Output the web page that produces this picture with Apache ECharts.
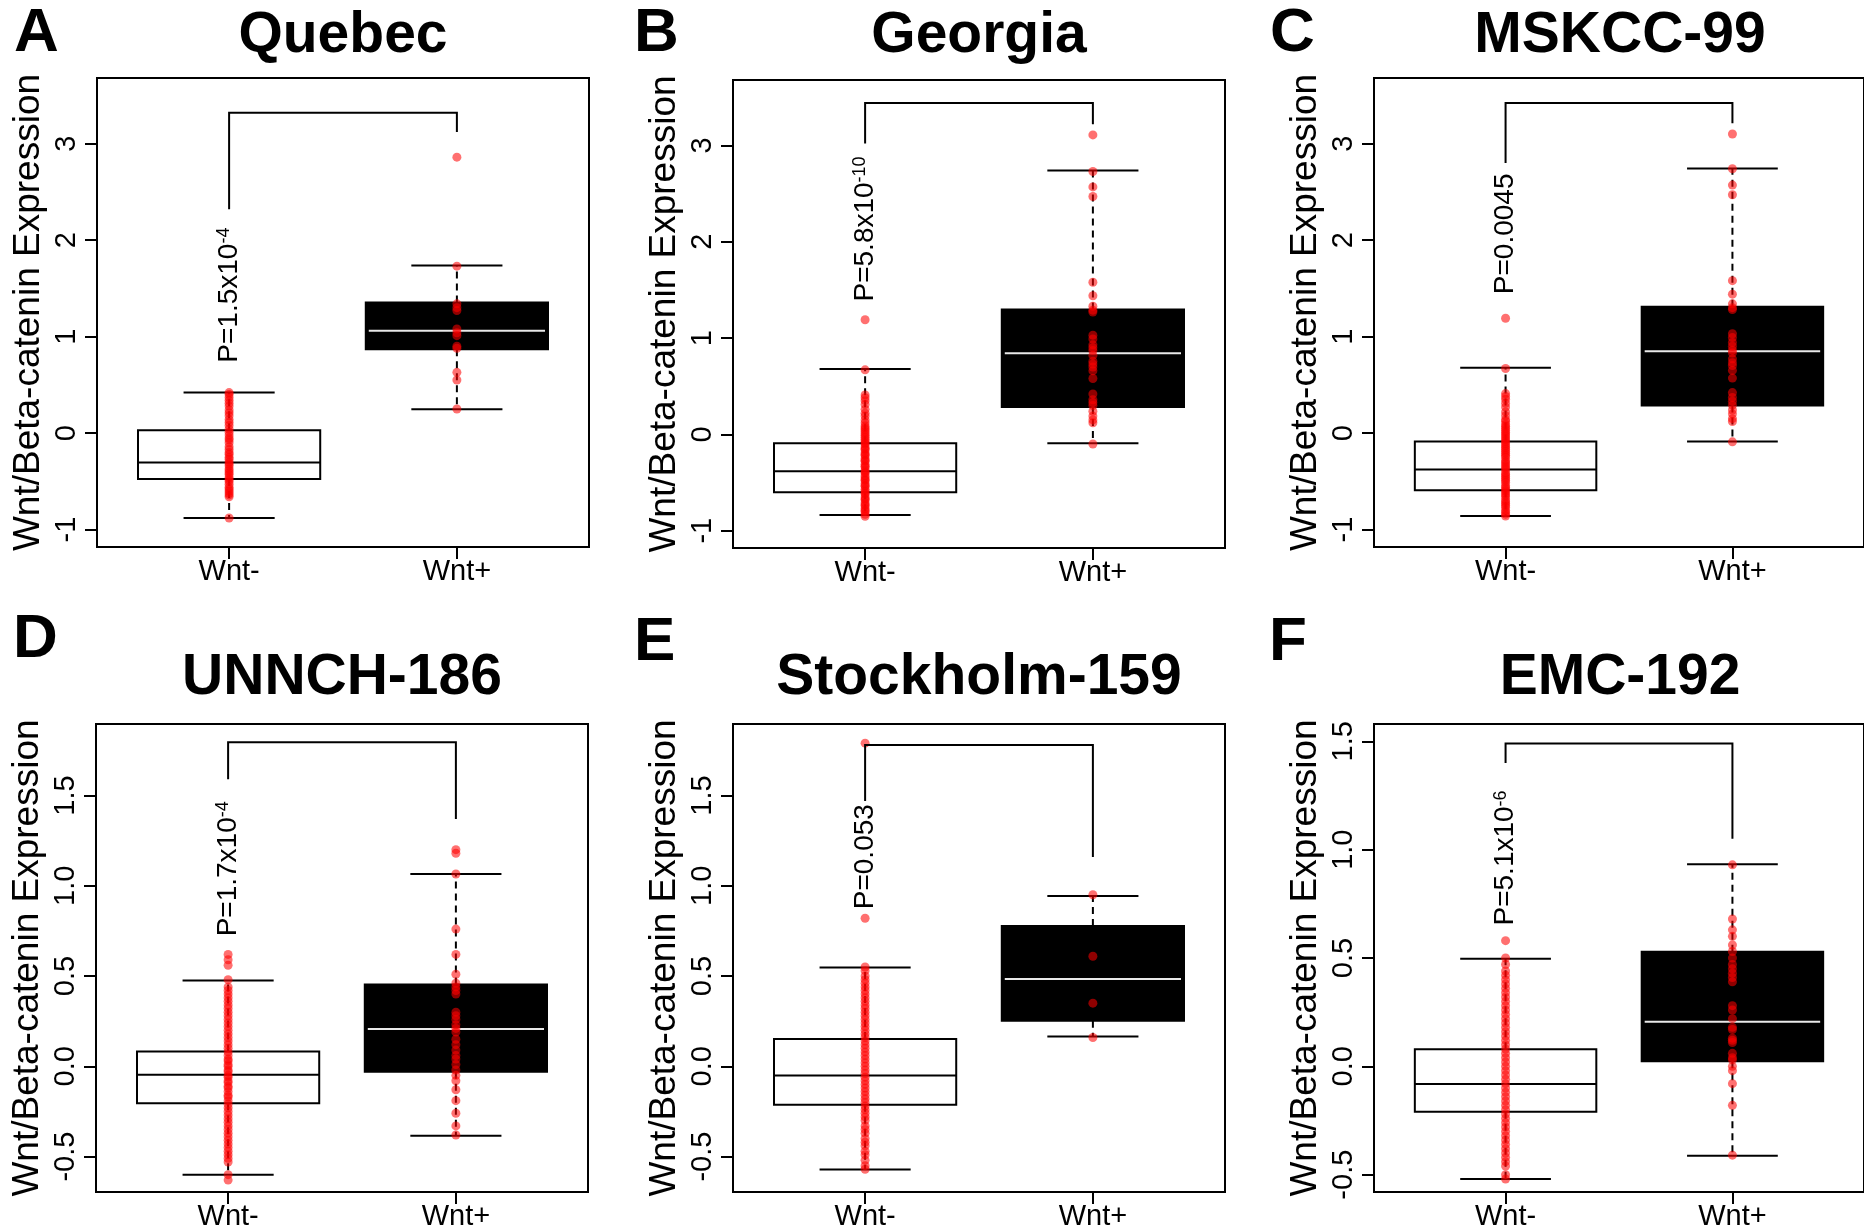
<!DOCTYPE html>
<html><head><meta charset="utf-8">
<script src="https://cdn.jsdelivr.net/npm/echarts@6/dist/echarts.min.js"></script>
<style>html,body{margin:0;padding:0;background:#fff;overflow:hidden}#c{width:1864px;height:1232px}</style>
</head><body><div id="c"></div>
<script>
// ---------------- DATA ----------------
const categories = ['Wnt-', 'Wnt+'];
const panelLetters = ['A', 'B', 'C', 'D', 'E', 'F'];
const panelTitles = ['Quebec', 'Georgia', 'MSKCC-99', 'UNNCH-186', 'Stockholm-159', 'EMC-192'];
const pMain = ['P=1.5x10', 'P=5.8x10', 'P=0.0045', 'P=1.7x10', 'P=0.053', 'P=5.1x10'];
const pExp = ['-4', '-10', '', '-4', '', '-6'];
const pTextStart = [0.73, 1.38, 1.44, 0.72, 0.87, 0.65];
// bracket: [left end, top, right end]
const brackets = [[2.32, 3.32, 3.12], [3.02, 3.44, 3.22], [2.80, 3.42, 3.21], [1.59, 1.795, 1.37], [1.47, 1.78, 1.16], [1.40, 1.49, 1.05]];
const yLimits = [[-1.18, 3.68], [-1.18, 3.68], [-1.18, 3.68], [-0.696, 1.896], [-0.696, 1.896], [-0.58, 1.58]];
const yTicksTop = [-1, 0, 1, 2, 3];
const yTickLabelsTop = ['-1', '0', '1', '2', '3'];
const yTicksBottom = [-0.5, 0, 0.5, 1, 1.5];
const yTickLabelsBottom = ['-0.5', '0.0', '0.5', '1.0', '1.5'];

// box stats: [low whisker, Q1, median, Q3, high whisker]
const quebecBoxNeg = [-0.88, -0.475, -0.305, 0.03, 0.42];
const quebecBoxPos = [0.247, 0.868, 1.061, 1.353, 1.736];
const georgiaBoxNeg = [-0.838, -0.60, -0.383, -0.091, 0.68];
const georgiaBoxPos = [-0.091, 0.285, 0.842, 1.296, 2.739];
const mskccBoxNeg = [-0.859, -0.593, -0.376, -0.088, 0.678];
const mskccBoxPos = [-0.088, 0.287, 0.848, 1.31, 2.743];
const unnchBoxNeg = [-0.601, -0.205, -0.047, 0.082, 0.476];
const unnchBoxPos = [-0.384, -0.030, 0.207, 0.453, 1.065];
const stockholmBoxNeg = [-0.571, -0.213, -0.051, 0.152, 0.548];
const stockholmBoxPos = [0.165, 0.253, 0.484, 0.777, 0.944];
const emcBoxNeg = [-0.52, -0.21, -0.081, 0.079, 0.497];
const emcBoxPos = [-0.413, 0.023, 0.206, 0.529, 0.933];

// sample points
const quebecNeg = [-0.88, -0.66, -0.64, -0.62, -0.6, -0.58, -0.56, -0.53, -0.5, -0.48, -0.46, -0.43, -0.41, -0.39, -0.37, -0.34, -0.32, -0.3, -0.27, -0.25, -0.22, -0.2, -0.17, -0.14, -0.1, -0.07, -0.05, -0.02, 0.01, 0.04, 0.08, 0.11, 0.14, 0.18, 0.21, 0.24, 0.28, 0.31, 0.34, 0.37, 0.4, 0.42];
const quebecPos = [0.25, 0.55, 0.63, 0.88, 0.9, 1.01, 1.04, 1.08, 1.27, 1.3, 1.34, 1.73, 2.86];
const georgiaNeg = [-0.85, -0.83, -0.8, -0.79, -0.77, -0.74, -0.73, -0.71, -0.68, -0.67, -0.65, -0.62, -0.61, -0.59, -0.57, -0.54, -0.53, -0.51, -0.48, -0.47, -0.45, -0.43, -0.4, -0.39, -0.37, -0.34, -0.33, -0.31, -0.28, -0.27, -0.25, -0.22, -0.21, -0.19, -0.16, -0.15, -0.13, -0.1, -0.09, -0.07, -0.05, -0.03, -0.01, 0.01, 0.03, 0.05, 0.07, 0.09, 0.12, 0.15, 0.19, 0.22, 0.26, 0.31, 0.35, 0.38, 0.41, 0.67, 1.19];
const georgiaPos = [-0.10, 0.12, 0.15, 0.19, 0.24, 0.3, 0.33, 0.36, 0.42, 0.58, 0.66, 0.7, 0.73, 0.76, 0.82, 0.87, 0.9, 0.93, 0.99, 1.03, 1.27, 1.29, 1.33, 1.44, 1.58, 2.47, 2.57, 2.73, 3.11];
const mskccNeg = [-0.86, -0.84, -0.82, -0.8, -0.77, -0.75, -0.73, -0.71, -0.69, -0.66, -0.64, -0.62, -0.6, -0.58, -0.56, -0.54, -0.51, -0.49, -0.47, -0.45, -0.43, -0.41, -0.38, -0.36, -0.34, -0.32, -0.3, -0.28, -0.25, -0.23, -0.21, -0.19, -0.17, -0.15, -0.13, -0.11, -0.09, -0.07, -0.05, -0.03, -0.01, 0.01, 0.03, 0.05, 0.07, 0.09, 0.12, 0.14, 0.18, 0.22, 0.27, 0.31, 0.35, 0.38, 0.41, 0.67, 1.19];
const mskccPos = [-0.09, 0.12, 0.15, 0.2, 0.24, 0.29, 0.33, 0.37, 0.42, 0.57, 0.65, 0.7, 0.73, 0.77, 0.83, 0.86, 0.9, 0.94, 0.99, 1.03, 1.28, 1.3, 1.34, 1.44, 1.58, 2.47, 2.57, 2.74, 3.1];
const unnchNeg = [-0.63, -0.60, -0.53, -0.51, -0.49, -0.47, -0.45, -0.43, -0.41, -0.39, -0.37, -0.35, -0.33, -0.31, -0.29, -0.27, -0.25, -0.23, -0.21, -0.19, -0.17, -0.16, -0.14, -0.12, -0.11, -0.09, -0.08, -0.06, -0.05, -0.03, -0.02, 0.0, 0.01, 0.03, 0.04, 0.06, 0.08, 0.1, 0.12, 0.14, 0.16, 0.18, 0.2, 0.22, 0.24, 0.26, 0.28, 0.3, 0.32, 0.34, 0.36, 0.38, 0.4, 0.42, 0.44, 0.48, 0.56, 0.59, 0.62];
const unnchPos = [-0.38, -0.33, -0.26, -0.19, -0.13, -0.08, -0.05, -0.02, 0.01, 0.04, 0.06, 0.09, 0.12, 0.15, 0.19, 0.21, 0.23, 0.26, 0.28, 0.30, 0.40, 0.42, 0.44, 0.46, 0.51, 0.62, 0.76, 1.065, 1.18, 1.20];
const stockholmNeg = [-0.57, -0.55, -0.52, -0.49, -0.47, -0.44, -0.42, -0.4, -0.37, -0.35, -0.33, -0.3, -0.28, -0.26, -0.24, -0.22, -0.2, -0.18, -0.16, -0.14, -0.12, -0.1, -0.08, -0.06, -0.04, -0.02, 0.0, 0.02, 0.04, 0.06, 0.08, 0.1, 0.12, 0.14, 0.16, 0.18, 0.2, 0.22, 0.24, 0.26, 0.28, 0.3, 0.32, 0.34, 0.36, 0.38, 0.4, 0.42, 0.44, 0.46, 0.48, 0.5, 0.53, 0.55, 0.82, 1.79];
const stockholmPos = [0.16, 0.35, 0.61, 0.95];
const emcNeg = [-0.52, -0.5, -0.46, -0.44, -0.42, -0.4, -0.38, -0.36, -0.34, -0.32, -0.3, -0.28, -0.26, -0.24, -0.22, -0.2, -0.18, -0.16, -0.14, -0.12, -0.1, -0.08, -0.06, -0.04, -0.02, 0.0, 0.02, 0.04, 0.06, 0.08, 0.1, 0.12, 0.14, 0.16, 0.18, 0.2, 0.22, 0.24, 0.26, 0.28, 0.3, 0.32, 0.34, 0.36, 0.38, 0.4, 0.42, 0.44, 0.47, 0.5, 0.58];
const emcPos = [-0.41, -0.18, -0.08, -0.02, 0.0, 0.03, 0.04, 0.06, 0.11, 0.12, 0.13, 0.17, 0.18, 0.22, 0.26, 0.28, 0.39, 0.41, 0.43, 0.45, 0.47, 0.50, 0.53, 0.56, 0.6, 0.63, 0.68, 0.93];

const boxNeg = [quebecBoxNeg, georgiaBoxNeg, mskccBoxNeg, unnchBoxNeg, stockholmBoxNeg, emcBoxNeg];
const boxPos = [quebecBoxPos, georgiaBoxPos, mskccBoxPos, unnchBoxPos, stockholmBoxPos, emcBoxPos];
const ptsNeg = [quebecNeg, georgiaNeg, mskccNeg, unnchNeg, stockholmNeg, emcNeg];
const ptsPos = [quebecPos, georgiaPos, mskccPos, unnchPos, stockholmPos, emcPos];

// ---------------- LAYOUT ----------------
const FONT = '"Liberation Sans", Arial, Helvetica, sans-serif';
const layouts = [
  {left: 97, top: 78, width: 492, height: 469},
  {left: 733, top: 80, width: 492, height: 468},
  {left: 1374, top: 78, width: 492, height: 469},
  {left: 96, top: 724, width: 492, height: 468},
  {left: 733, top: 724, width: 492, height: 468},
  {left: 1374, top: 724, width: 492, height: 468}
];
const letterPos = [[14, 34], [634, 34], [1270, 34], [13, 640], [634, 643], [1269, 643]];
const titleY = [36, 36, 36, 678, 678, 678];

const chart = echarts.init(document.getElementById('c'), null, {renderer: 'canvas'});

const grids = [], xAxes = [], yAxes = [], series = [], graphics = [];

function boxRender(params, api) {
  const x = api.value(0);
  const lo = api.value(1), q1 = api.value(2), med = api.value(3), q3 = api.value(4), hi = api.value(5);
  const dark = params.dataIndex === 1;
  const bl = api.coord([x - 0.4, q3]);
  const br = api.coord([x + 0.4, q1]);
  const cl = api.coord([x - 0.2, hi])[0];
  const cr = api.coord([x + 0.2, hi])[0];
  const cx = api.coord([x, med])[0];
  const yLo = api.coord([x, lo])[1], yHi = api.coord([x, hi])[1], yMed = api.coord([x, med])[1];
  const solid = {stroke: '#000', lineWidth: 2};
  const dashed = {stroke: '#000', lineWidth: 2, lineDash: [7, 5]};
  return {type: 'group', children: [
    {type: 'line', shape: {x1: cx, y1: bl[1], x2: cx, y2: yHi}, style: dashed},
    {type: 'line', shape: {x1: cx, y1: br[1], x2: cx, y2: yLo}, style: dashed},
    {type: 'line', shape: {x1: cl, y1: yHi, x2: cr, y2: yHi}, style: solid},
    {type: 'line', shape: {x1: cl, y1: yLo, x2: cr, y2: yLo}, style: solid},
    {type: 'rect', shape: {x: bl[0], y: bl[1], width: br[0] - bl[0], height: br[1] - bl[1]},
      style: {fill: dark ? '#000' : '#fff', stroke: '#000', lineWidth: 2}},
    {type: 'line', shape: {x1: bl[0] + (dark ? 3 : 0), y1: yMed, x2: br[0] - (dark ? 3 : 0), y2: yMed},
      style: {stroke: dark ? '#e8e8e8' : '#000', lineWidth: 2}}
  ]};
}

function bracketRender(params, api) {
  const a = api.coord([1, api.value(0)]);
  const t1 = api.coord([1, api.value(1)]);
  const t2 = api.coord([2, api.value(1)]);
  const b = api.coord([2, api.value(2)]);
  return {type: 'polyline', shape: {points: [a, t1, t2, b]},
    style: {stroke: '#000', lineWidth: 2, fill: null}};
}

for (let i = 0; i < 6; i++) {
  const L = layouts[i];
  const top = i < 3;
  const ticks = top ? yTicksTop : yTicksBottom;
  const tickLabels = top ? yTickLabelsTop : yTickLabelsBottom;
  grids.push({left: L.left, top: L.top, width: L.width, height: L.height, show: true,
    borderColor: '#000', borderWidth: 2, backgroundColor: 'transparent', containLabel: false});
  xAxes.push({type: 'value', gridIndex: i, min: 0.42, max: 2.58, position: 'bottom',
    axisLine: {show: false, onZero: false}, splitLine: {show: false},
    axisTick: {show: true, customValues: [1, 2], length: 12, lineStyle: {color: '#000', width: 2}},
    axisLabel: {show: true, customValues: [1, 2], formatter: v => categories[Math.round(v) - 1],
      color: '#000', fontSize: 29, fontFamily: FONT, margin: 10}});
  yAxes.push({type: 'value', gridIndex: i, min: yLimits[i][0], max: yLimits[i][1], position: 'left',
    axisLine: {show: false, onZero: false}, splitLine: {show: false},
    axisTick: {show: true, customValues: ticks, length: 12, lineStyle: {color: '#000', width: 2}},
    axisLabel: {show: true, customValues: ticks, rotate: 90,
      formatter: v => { const k = ticks.findIndex(t => Math.abs(t - v) < 1e-9); return k >= 0 ? tickLabels[k] : ''; },
      color: '#000', fontSize: 29, fontFamily: FONT, margin: 16}});

  series.push({type: 'custom', xAxisIndex: i, yAxisIndex: i, z: 2, silent: true,
    renderItem: boxRender, encode: {x: 0, y: [1, 2, 3, 4, 5]},
    data: [[1].concat(boxNeg[i]), [2].concat(boxPos[i])]});

  series.push({type: 'scatter', xAxisIndex: i, yAxisIndex: i, z: 3, silent: true,
    symbol: 'circle', symbolSize: 9,
    itemStyle: {color: 'rgba(255,0,0,0.7)'},
    data: ptsNeg[i].map(v => [1, v]).concat(ptsPos[i].map(v => [2, v]))});

  series.push({type: 'custom', xAxisIndex: i, yAxisIndex: i, z: 4, silent: true,
    renderItem: bracketRender, encode: {y: [0, 1, 2]},
    data: [brackets[i]]});

  series.push({type: 'custom', xAxisIndex: i, yAxisIndex: i, z: 5, silent: true,
    data: [[1, pTextStart[i]]],
    renderItem: (params, api) => {
      const pt = api.coord([api.value(0), api.value(1)]);
      const txt = '{n|' + pMain[i] + '}' + (pExp[i] ? '{s|' + pExp[i] + '}' : '');
      return {type: 'text', x: pt[0], y: pt[1], rotation: Math.PI / 2,
        style: {text: txt, align: 'left', verticalAlign: 'middle', fill: '#000',
          fontFamily: FONT, fontSize: 28,
          rich: {n: {fontSize: 28, fontFamily: FONT, fill: '#000'},
                 s: {fontSize: 18, fontFamily: FONT, fill: '#000', verticalAlign: 'top'}}}};
    }});

  // letters, titles, y-axis names
  graphics.push({type: 'text', x: letterPos[i][0], y: letterPos[i][1],
    style: {text: panelLetters[i], font: 'bold 62px ' + FONT, fill: '#000', align: 'left', verticalAlign: 'middle',
      textAlign: 'left', textVerticalAlign: 'middle'}});
  graphics.push({type: 'text', x: L.left + L.width / 2, y: titleY[i],
    style: {text: panelTitles[i], font: 'bold 57px ' + FONT, fill: '#000', align: 'center', verticalAlign: 'middle',
      textAlign: 'center', textVerticalAlign: 'middle'}});
  graphics.push({type: 'text', x: L.left - 68, y: L.top + L.height / 2, rotation: Math.PI / 2,
    style: {text: 'Wnt/Beta-catenin Expression', font: '37px ' + FONT, fill: '#000', align: 'center', verticalAlign: 'middle',
      textAlign: 'center', textVerticalAlign: 'middle'}});
}

chart.setOption({
  animation: false,
  backgroundColor: '#fff',
  grid: grids, xAxis: xAxes, yAxis: yAxes, series: series,
  graphic: {elements: graphics}
});
</script></body></html>
